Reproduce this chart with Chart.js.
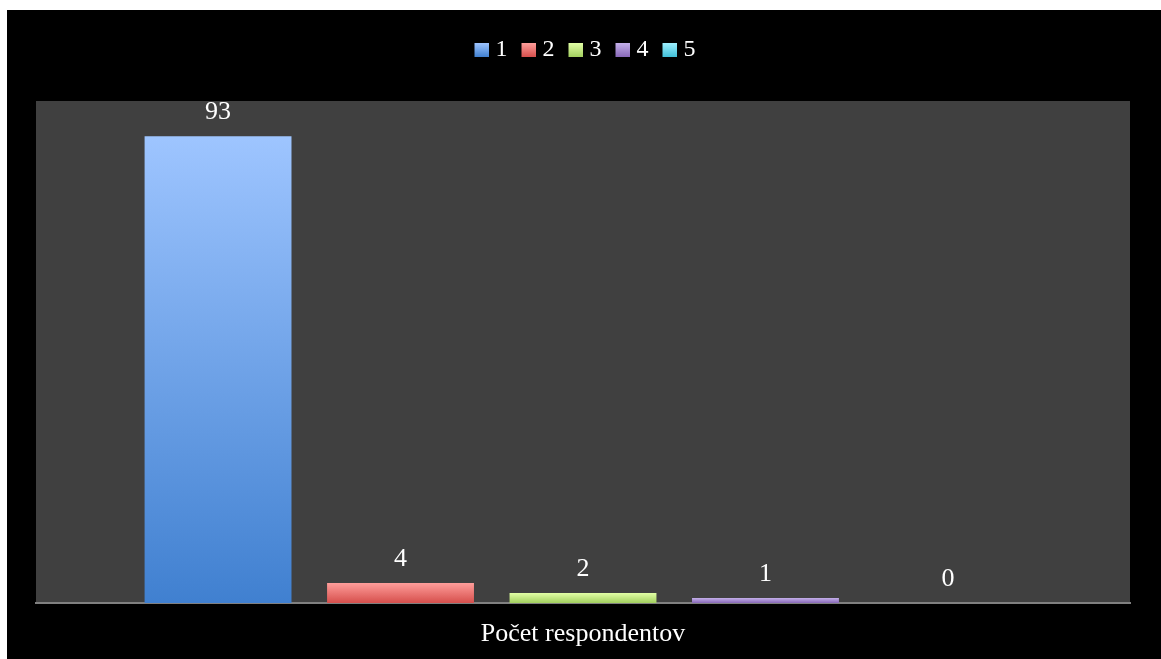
<!DOCTYPE html>
<html>
<head>
<meta charset="utf-8">
<script src="https://cdn.jsdelivr.net/npm/chart.js@4.4.0/dist/chart.umd.min.js"></script>
<style>
  html, body { margin: 0; padding: 0; background: #ffffff; }
  .wrap { position: absolute; left: 7px; top: 10px; width: 1154px; height: 649px; background: #000000; }
</style>
</head>
<body>
<div class="wrap"><canvas id="chart"></canvas></div>
<script>
const categories = ["Počet respondentov"];
const seriesNames = ["1", "2", "3", "4", "5"];
const respondents = [93, 4, 2, 1, 0];

// gradient stops for each series: top -> bottom
const topColors = ["#9ec5ff", "#ff9e9b", "#e2ffa6", "#c4b0ea", "#9ef0ff"];
const bottomColors = ["#4080d0", "#d64f4c", "#a2cf5e", "#8868b8", "#40bfd8"];

const serif = "'Liberation Serif', 'Times New Roman', serif";

function barGradient(i) {
  return function (context) {
    const chart = context.chart;
    if (!chart.chartArea || context.raw === undefined) return topColors[i];
    const y = chart.scales.y;
    const top = y.getPixelForValue(context.raw);
    const bottom = y.getPixelForValue(0);
    if (bottom - top < 1) return bottomColors[i];
    const g = chart.ctx.createLinearGradient(0, top, 0, bottom);
    g.addColorStop(0, topColors[i]);
    g.addColorStop(1, bottomColors[i]);
    return g;
  };
}

// gradient square for the legend, drawn on the right of a wider transparent image
// so it sits closer to its label
function legendSwatch(i) {
  const c = document.createElement("canvas");
  c.width = 23;
  c.height = 14;
  const cx = c.getContext("2d");
  const g = cx.createLinearGradient(0, 0, 0, 14);
  g.addColorStop(0, topColors[i]);
  g.addColorStop(1, bottomColors[i]);
  cx.fillStyle = g;
  cx.fillRect(9, 0, 14, 14);
  return c;
}

const plotBackground = {
  id: "plotBackground",
  beforeDraw(chart) {
    const { ctx, chartArea } = chart;
    ctx.save();
    ctx.fillStyle = "#404040";
    ctx.fillRect(chartArea.left, chartArea.top, chartArea.right - chartArea.left, chartArea.bottom - chartArea.top);
    ctx.restore();
  },
};

const legendGap = {
  id: "legendGap",
  beforeInit(chart) {
    const fit = chart.legend.fit;
    chart.legend.fit = function () {
      fit.call(this);
      this.height += 29;
    };
  },
};

const valueLabels = {
  id: "valueLabels",
  afterDatasetsDraw(chart) {
    const ctx = chart.ctx;
    ctx.save();
    ctx.font = "26px " + serif;
    ctx.fillStyle = "#ffffff";
    ctx.textAlign = "center";
    ctx.textBaseline = "alphabetic";
    chart.data.datasets.forEach((ds, i) => {
      chart.getDatasetMeta(i).data.forEach((bar, j) => {
        ctx.fillText(ds.data[j], bar.x, bar.y - 17);
      });
    });
    ctx.restore();
  },
};

new Chart(document.getElementById("chart"), {
  type: "bar",
  data: {
    labels: categories,
    datasets: seriesNames.map((name, i) => ({
      label: name,
      data: [respondents[i]],
      backgroundColor: barGradient(i),
      borderWidth: 0,
      categoryPercentage: 0.834,
      barPercentage: 0.805,
    })),
  },
  options: {
    responsive: true,
    maintainAspectRatio: false,
    animation: false,
    layout: { padding: { top: 18, left: 29, right: 31, bottom: 0 } },
    plugins: {
      legend: {
        position: "top",
        labels: {
          color: "#ffffff",
          font: { family: serif, size: 24 },
          usePointStyle: true,
          boxWidth: 13,
          boxHeight: 13,
          pointStyleWidth: 13,
          padding: 10,
          generateLabels(chart) {
            return chart.data.datasets.map((ds, i) => ({
              text: ds.label,
              pointStyle: legendSwatch(i),
              fontColor: "#ffffff",
              lineWidth: 0,
              strokeStyle: "transparent",
              hidden: !chart.isDatasetVisible(i),
              datasetIndex: i,
            }));
          },
        },
      },
      tooltip: { enabled: false },
    },
    scales: {
      x: {
        grid: { display: false },
        border: { display: true, color: "#808080", width: 2 },
        ticks: { color: "#ffffff", font: { family: serif, size: 26 }, padding: 8 },
        afterFit(scale) {
          scale.height = 56;
        },
      },
      y: {
        display: false,
        min: 0,
        max: 100,
      },
    },
  },
  plugins: [plotBackground, legendGap, valueLabels],
});
</script>
</body>
</html>
